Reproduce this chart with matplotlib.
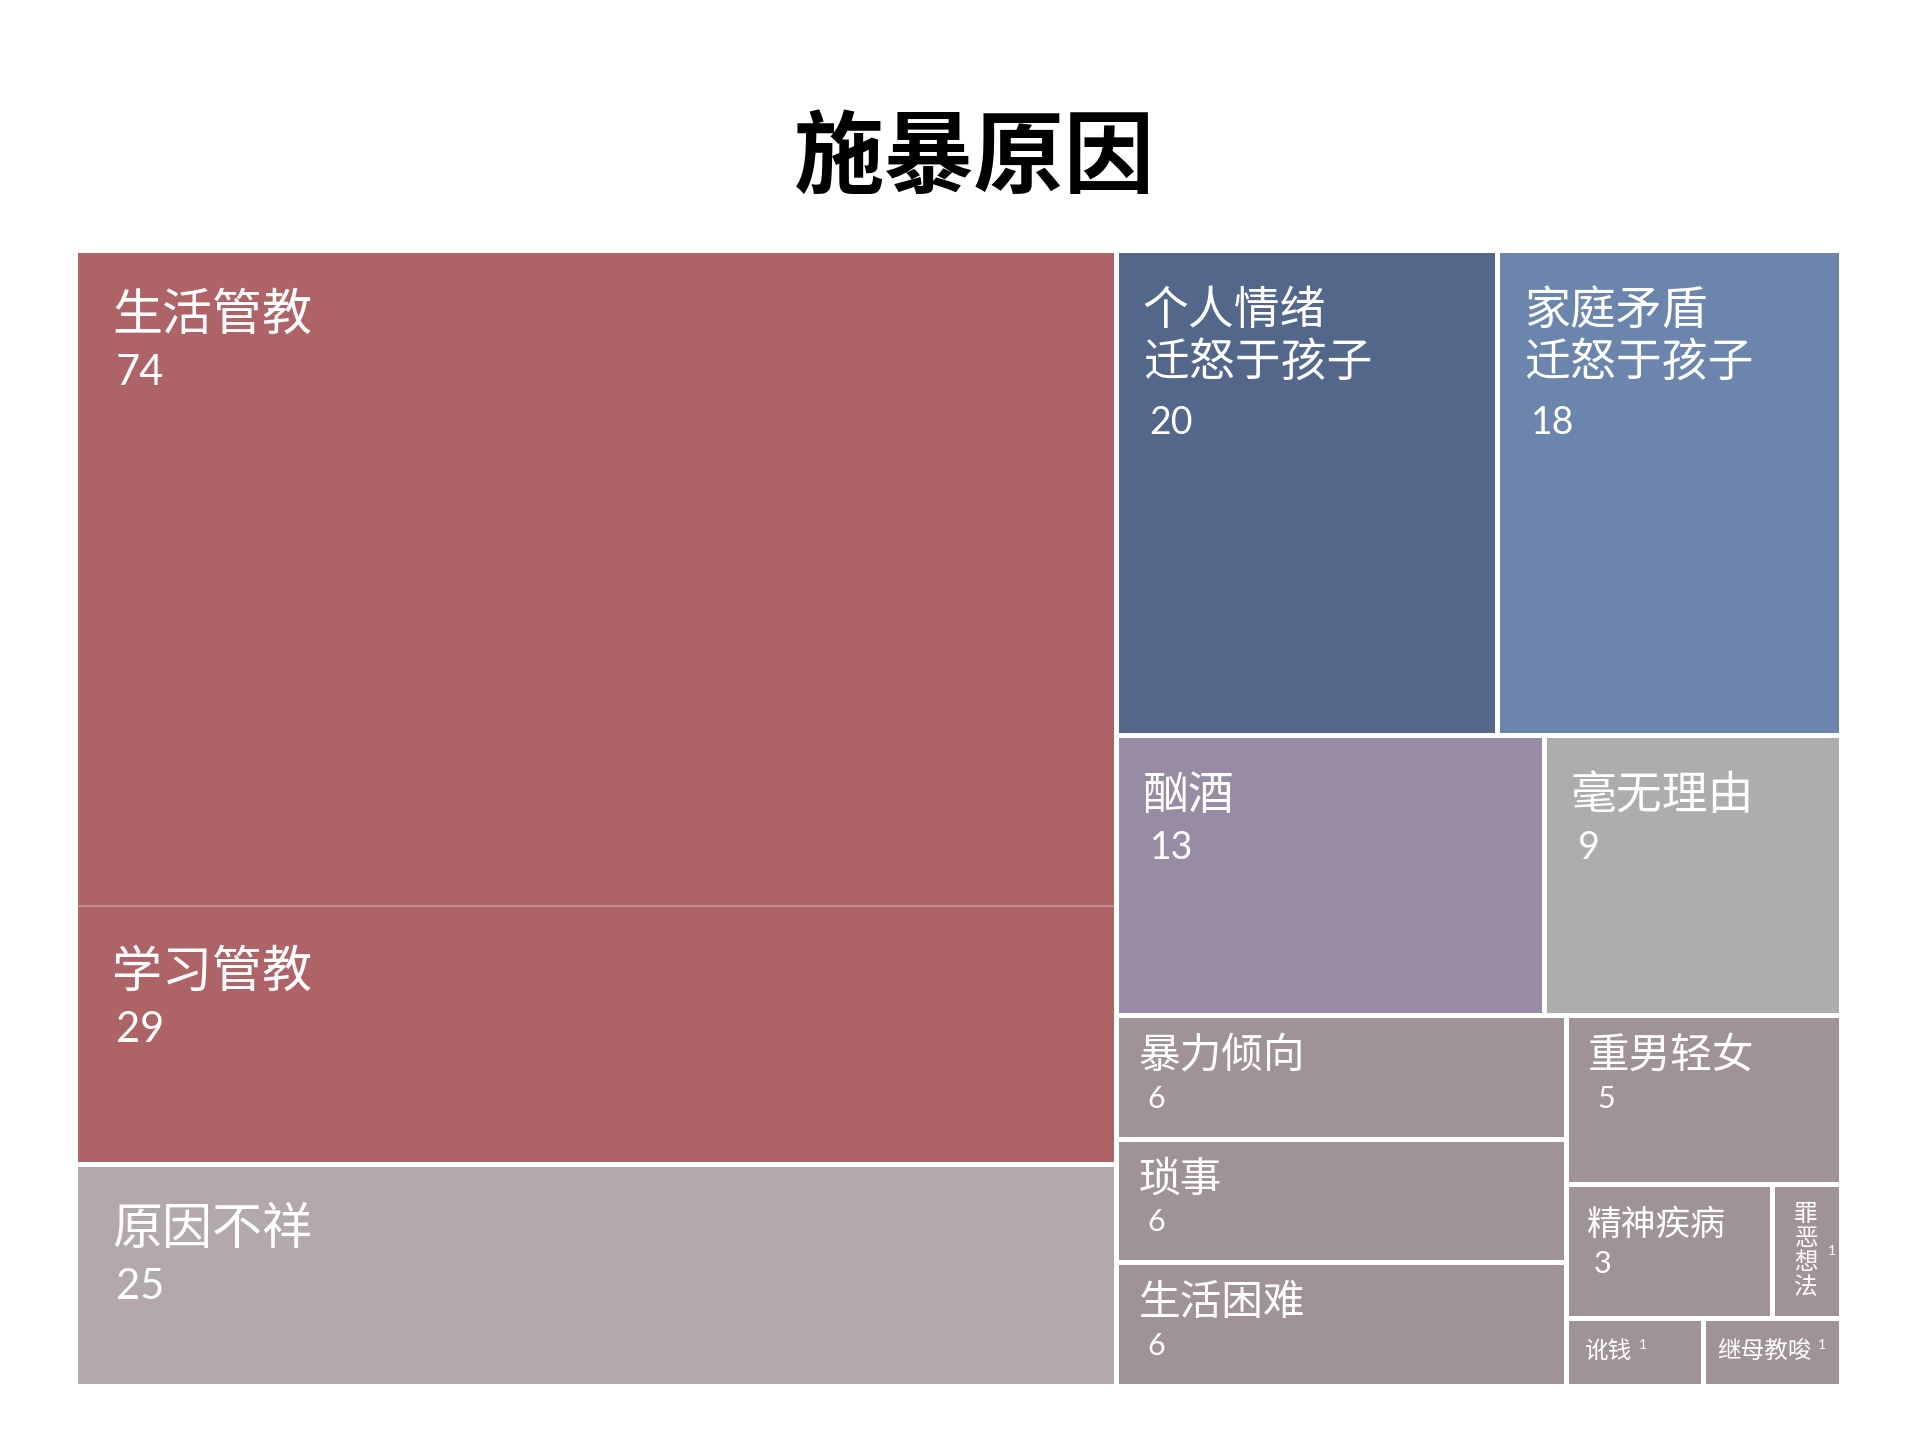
import matplotlib
matplotlib.use("Agg")
import matplotlib.pyplot as plt
from matplotlib.patches import Rectangle

# data
labels = ["生活管教", "学习管教", "原因不祥", "个人情绪\n迁怒于孩子", "家庭矛盾\n迁怒于孩子",
          "酗酒", "毫无理由", "暴力倾向", "琐事", "生活困难", "重男轻女",
          "精神疾病", "罪恶想法", "讹钱", "继母教唆"]
counts = [74, 29, 25, 20, 18, 13, 9, 6, 6, 6, 5, 3, 1, 1, 1]
colors = ["#ae6466", "#ae6466", "#b3a9ac", "#53678b", "#6c85ad",
          "#978ca4", "#adadad", "#a09396", "#a09396", "#a09396", "#a09396",
          "#a09396", "#a09396", "#a09396", "#a09396"]
title = "施暴原因"

# how the tiles nest: (split direction, children), leaves are indices
tree = ("x", [("y", [("y", [0, 1]), 2]),
              ("y", [("x", [3, 4]), ("x", [5, 6]),
                     ("x", [("y", [7, 8, 9]),
                            ("y", [10, ("x", [11, 12]), ("x", [13, 14])])])])])
merged = [0, 1]

CJK = ["Noto Sans CJK SC", "DejaVu Sans"]
NUM = ["Lato", "Noto Sans CJK SC", "DejaVu Sans"]
PX = 0.72  # points per pixel at dpi 100
GAP = 5


def total(node):
    if isinstance(node, int):
        return counts[node]
    return sum(total(c) for c in node[1])


def slice_layout(node, x, y, w, h, out):
    if isinstance(node, int):
        out[node] = (x, y, w, h)
        return
    direction, children = node
    s = total(node)
    for c in children:
        f = total(c) / s
        if direction == "x":
            slice_layout(c, x, y, w * f, h, out)
            x += w * f
        else:
            slice_layout(c, x, y, w, h * f, out)
            y += h * f


def tier(v):
    # label size, number size, left pad, label baseline, line step, number baseline gap (px)
    if v >= 25:
        return dict(size=36, num=30, pad=35, base=78, step=52, nb=55, ndx=4)
    if v >= 9:
        return dict(size=33, num=27, pad=24, base=72, step=52, nb=50, ndx=7)
    if v >= 5:
        return dict(size=30, num=22, pad=20, base=50, step=46, nb=40, ndx=9)
    if v >= 3:
        return dict(size=25, num=22, pad=19, base=49, step=40, nb=38, ndx=6)
    return dict(size=17, num=10, pad=17)


fig = plt.figure(figsize=(19.2, 14.41), dpi=100)
W, H = 1920, 1441
left, right, top, bottom = 74.5, 1840.5, 249.5, 1385.5
ax = fig.add_axes([left / W, 1 - bottom / H, (right - left) / W, (bottom - top) / H])
ax.set_xlim(0, 1)
ax.set_ylim(1, 0)
ax.axis("off")

rects = {}
slice_layout(tree, 0, 0, 1, 1, rects)

for i, (x, y, w, h) in rects.items():
    if i in merged:
        ax.add_patch(Rectangle((x, y), w, h, facecolor=colors[i], edgecolor="#c4908f", lw=1.4))
    else:
        ax.add_patch(Rectangle((x, y), w, h, facecolor=colors[i], edgecolor="white", lw=GAP * PX))

gx0 = min(rects[i][0] for i in merged)
gy0 = min(rects[i][1] for i in merged)
gx1 = max(rects[i][0] + rects[i][2] for i in merged)
gy1 = max(rects[i][1] + rects[i][3] for i in merged)
ax.add_patch(Rectangle((gx0, gy0), gx1 - gx0, gy1 - gy0, facecolor="none",
                       edgecolor="white", lw=GAP * PX))

fig.canvas.draw()
renderer = fig.canvas.get_renderer()
sx = (right - left)  # px per data unit
sy = (bottom - top)

for i, (x, y, w, h) in rects.items():
    t = tier(counts[i])
    wpx, hpx = w * sx, h * sy
    if counts[i] >= 3:
        lines = labels[i].split("\n")
        for k, line in enumerate(lines):
            ax.annotate(line, (x, y), xytext=((t["pad"] + 2.5) * PX, -(t["base"] + 2.5 + k * t["step"]) * PX),
                        textcoords="offset points", ha="left", va="baseline",
                        color="white", fontsize=t["size"], family=CJK)
        nb = t["base"] + (len(lines) - 1) * (t["step"] + 8) + t["nb"]
        ax.annotate(str(counts[i]), (x, y),
                    xytext=((t["pad"] + t["ndx"] + 2.5) * PX, -(nb + 2.5) * PX),
                    textcoords="offset points", ha="left", va="baseline",
                    color="white", fontsize=t["num"], family=NUM)
    elif hpx > wpx * 1.5:
        # narrow tall tile: stack characters
        ax.text(x + w / 2, y + h / 2, "\n".join(labels[i]), ha="center", va="center",
                color="white", fontsize=t["size"], family=CJK, linespacing=1.06)
        ax.annotate(str(counts[i]), (x + w / 2, y + h / 2), xytext=(22 * PX, 0),
                    textcoords="offset points", ha="left", va="center",
                    color="white", fontsize=t["num"], family=NUM)
    else:
        probe = ax.text(0, 0, labels[i], fontsize=t["size"], family=CJK)
        tw = probe.get_window_extent(renderer).width
        probe.remove()
        pad = min(t["pad"], (wpx - 5 - tw - 14) / 2)
        ax.annotate(labels[i], (x, y + h / 2), xytext=((pad + 2.5) * PX, -6 * PX),
                    textcoords="offset points", ha="left", va="baseline",
                    color="white", fontsize=t["size"], family=CJK)
        ax.annotate(str(counts[i]), (x, y + h / 2), xytext=((pad + 2.5 + tw + 6) * PX, 3 * PX),
                    textcoords="offset points", ha="left", va="baseline",
                    color="white", fontsize=t["num"], family=NUM)

fig.text(974 / W, 1 - 159 / H, title, ha="center", va="center", fontsize=65,
         fontweight="bold", family=CJK, color="black")

fig.savefig("out.png", dpi=100, facecolor="white")
